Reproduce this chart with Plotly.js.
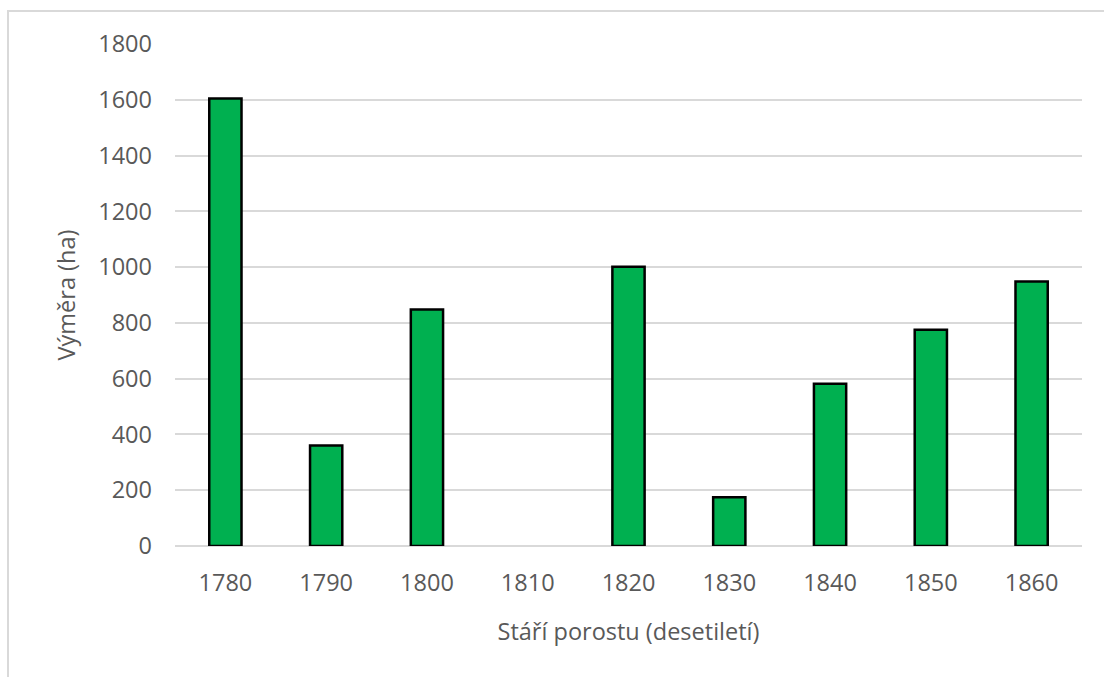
<!DOCTYPE html>
<html>
<head>
<meta charset="utf-8">
<script src="https://cdn.plot.ly/plotly-3.0.1.min.js"></script>
<style>
  html, body { margin: 0; padding: 0; background: #fff; }
  #wrap { position: relative; width: 1104px; height: 677px; overflow: hidden; }
  #chart { width: 1104px; height: 677px; }
  #frame { position: absolute; left: 7px; top: 10px; width: 1200px; height: 800px;
           border-left: 2px solid #d9d9d9; border-top: 2px solid #d9d9d9; pointer-events: none; }
</style>
</head>
<body>
<div id="wrap">
  <div id="chart"></div>
  <div id="frame"></div>
</div>
<script>
const categories = ["1780", "1790", "1800", "1810", "1820", "1830", "1840", "1850", "1860"];
const areaHa = [1605, 360, 848, 0, 1001, 175, 582, 775, 948];
const yTicks = [0, 200, 400, 600, 800, 1000, 1200, 1400, 1600, 1800];
const xTitle = "Stáří porostu (desetiletí)";
const yTitle = "Výměra (ha)";

const font = "'Open Sans', 'Liberation Sans', sans-serif";
const grey = "#595959";
const fs = 23.5;

const trace = {
  type: "bar",
  x: categories,
  y: areaHa,
  marker: {
    color: "#00B050",
    line: { color: "#000000", width: areaHa.map(v => (v > 0 ? 2.5 : 0)) }
  },
  hoverinfo: "x+y"
};

const layout = {
  width: 1104,
  height: 677,
  margin: { l: 175, r: 22, t: 44, b: 131 },
  paper_bgcolor: "rgba(0,0,0,0)",
  plot_bgcolor: "#ffffff",
  bargap: 0.68,
  showlegend: false,
  font: { family: font, size: fs, color: grey },
  xaxis: {
    type: "category",
    tickvals: categories,
    ticktext: categories,
    showgrid: false,
    showline: false,
    zeroline: false,
    ticks: "",
    ticklabelstandoff: 20,
    tickfont: { family: font, size: fs, color: grey },
    title: { text: xTitle, font: { family: font, size: fs, color: grey }, standoff: 27 }
  },
  yaxis: {
    range: [0, 1800],
    tickvals: yTicks,
    ticktext: yTicks.map(String),
    showgrid: true,
    gridcolor: "#d9d9d9",
    gridwidth: 2,
    zeroline: true,
    zerolinecolor: "#d9d9d9",
    zerolinewidth: 2,
    showline: false,
    ticks: "",
    ticklabelstandoff: 22,
    tickfont: { family: font, size: fs, color: grey },
    title: { text: yTitle, font: { family: font, size: fs, color: grey }, standoff: 16 }
  }
};

Plotly.newPlot("chart", [trace], layout, { displayModeBar: false, staticPlot: true });
</script>
</body>
</html>
